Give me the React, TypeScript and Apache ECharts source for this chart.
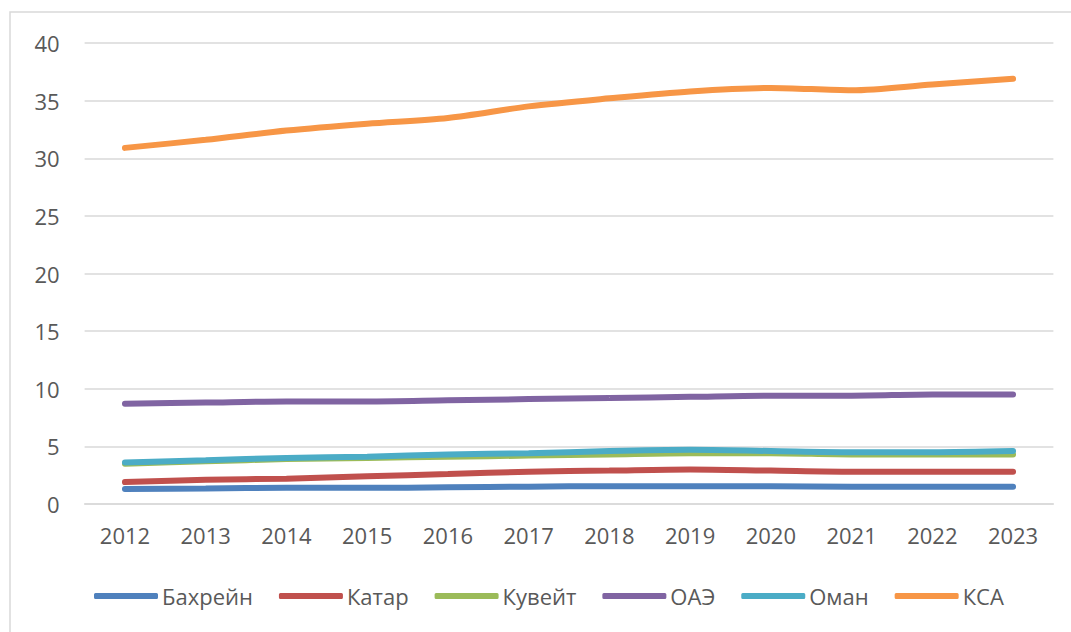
import React, { useEffect, useRef } from "react";
import * as echarts from "echarts";

const years = ["2012", "2013", "2014", "2015", "2016", "2017", "2018", "2019", "2020", "2021", "2022", "2023"];
const bahrain = [1.3, 1.35, 1.4, 1.4, 1.45, 1.5, 1.55, 1.55, 1.55, 1.5, 1.5, 1.5];
const qatar = [1.9, 2.1, 2.2, 2.4, 2.6, 2.8, 2.9, 3.0, 2.9, 2.8, 2.8, 2.8];
const kuwait = [3.5, 3.7, 3.9, 4.0, 4.1, 4.2, 4.3, 4.4, 4.4, 4.3, 4.3, 4.3];
const uae = [8.7, 8.8, 8.9, 8.9, 9.0, 9.1, 9.2, 9.3, 9.4, 9.4, 9.5, 9.5];
const oman = [3.6, 3.8, 4.0, 4.1, 4.3, 4.4, 4.6, 4.7, 4.6, 4.5, 4.5, 4.6];
const ksa = [30.9, 31.6, 32.4, 33.0, 33.5, 34.5, 35.2, 35.8, 36.1, 35.9, 36.4, 36.9];

const seriesNames = ["Бахрейн", "Катар", "Кувейт", "ОАЭ", "Оман", "КСА"];
const seriesData = [bahrain, qatar, kuwait, uae, oman, ksa];
const colors = ["#4F81BD", "#C0504D", "#9BBB59", "#8064A2", "#4BACC6", "#F79646"];

const FONT = "'Open Sans', 'Noto Sans', sans-serif";

export default function App() {
  const ref = useRef<HTMLDivElement>(null);
  useEffect(() => {
    if (!ref.current) return;
    const chart = echarts.init(ref.current, null, { renderer: "svg" });
    chart.setOption({
      animation: false,
      color: colors,
      graphic: [
        {
          type: "rect",
          shape: { x: 10, y: 12, width: 1070, height: 640 },
          style: { fill: "none", stroke: "#d9d9d9", lineWidth: 1.5 },
          silent: true,
        },
      ],
      grid: { left: 84.6, right: 17.6, top: 43, bottom: 128 },
      legend: {
        left: 89,
        top: 580,
        itemWidth: 64,
        itemHeight: 6,
        itemGap: 26,
        icon: "roundRect",
        textStyle: { color: "#595959", fontSize: 22, fontFamily: FONT, padding: [0, 0, 0, -1] },
        data: seriesNames,
      },
      xAxis: {
        type: "category",
        data: years,
        boundaryGap: true,
        axisLine: { lineStyle: { color: "#d9d9d9", width: 1.5 } },
        axisTick: { show: false },
        axisLabel: { color: "#595959", fontSize: 22, fontFamily: FONT, margin: 20 },
      },
      yAxis: {
        type: "value",
        min: 0,
        max: 40,
        interval: 5,
        axisLine: { show: false },
        axisTick: { show: false },
        axisLabel: { color: "#595959", fontSize: 22, fontFamily: FONT, margin: 25 },
        splitLine: { lineStyle: { color: "#d9d9d9", width: 1.5 } },
      },
      series: seriesNames.map((name, i) => ({
        name,
        type: "line",
        data: seriesData[i],
        smooth: 0.3,
        symbol: "none",
        lineStyle: { width: 6, color: colors[i], cap: "round" },
        itemStyle: { color: colors[i] },
      })),
    });
    return () => chart.dispose();
  }, []);
  return (
    <div
      ref={ref}
      style={{ position: "absolute", left: 0, top: 0, width: 1071, height: 632, background: "#fff" }}
    />
  );
}
